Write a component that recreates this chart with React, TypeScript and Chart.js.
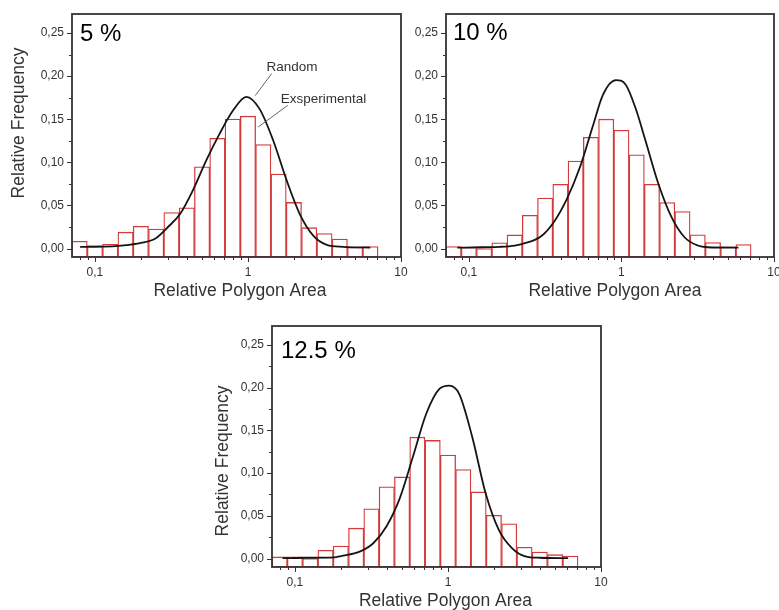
import React, { useEffect, useRef } from 'react';
import { Chart, registerables } from 'chart.js';

Chart.register(...registerables);

// ---------- data ----------
const BIN_CENTERS = [0.0794, 0.1, 0.1259, 0.1585, 0.1995, 0.2512, 0.3162, 0.3981, 0.5012, 0.631, 0.7943, 1, 1.259, 1.585, 1.995, 2.512, 3.162, 3.981, 5.012, 6.31];

const EXP_5 = [0.0085, 0.0035, 0.005, 0.019, 0.0258, 0.0225, 0.0417, 0.0473, 0.0947, 0.1278, 0.1502, 0.1535, 0.1205, 0.0864, 0.0535, 0.0242, 0.0175, 0.011, 0.0015, 0.0023];
const EXP_10 = [0.0023, 0.0015, 0, 0.0066, 0.0158, 0.0386, 0.0586, 0.0744, 0.1015, 0.129, 0.150, 0.1372, 0.1088, 0.0744, 0.0533, 0.0428, 0.016, 0.007, 0.002, 0.0046];
const EXP_125 = [0.002, 0.002, 0, 0.0097, 0.0148, 0.0356, 0.0582, 0.084, 0.0955, 0.142, 0.1382, 0.1212, 0.1042, 0.078, 0.0507, 0.0406, 0.0133, 0.0077, 0.0046, 0.003];

const RAND_5_X = [0.08, 0.1, 0.13, 0.16, 0.2, 0.25, 0.3, 0.36, 0.435, 0.533, 0.652, 0.798, 0.975, 1.19, 1.46, 1.79, 2.18, 2.67, 3.27, 4.2, 6.3];
const RAND_5_Y = [0.002, 0.002, 0.0025, 0.004, 0.0065, 0.012, 0.025, 0.040, 0.067, 0.102, 0.133, 0.160, 0.176, 0.162, 0.1256, 0.079, 0.040, 0.015, 0.0043, 0.002, 0.001];

const RAND_10_X = [0.084, 0.12, 0.16, 0.2, 0.23, 0.296, 0.36, 0.44, 0.535, 0.652, 0.755, 0.92, 1.067, 1.24, 1.435, 1.746, 2.13, 2.59, 3.16, 3.66, 5.85];
const RAND_10_Y = [0.001, 0.0015, 0.002, 0.0035, 0.006, 0.014, 0.0306, 0.058, 0.0945, 0.143, 0.178, 0.1953, 0.190, 0.1624, 0.1256, 0.0752, 0.0364, 0.0131, 0.0035, 0.0015, 0.001];

const RAND_125_X = [0.083, 0.12, 0.18, 0.2, 0.267, 0.325, 0.396, 0.484, 0.59, 0.721, 0.879, 1.019, 1.183, 1.442, 1.762, 2.148, 2.618, 3.2, 4.0, 6.1];
const RAND_125_Y = [0.0005, 0.001, 0.0015, 0.003, 0.0085, 0.018, 0.0376, 0.0705, 0.119, 0.1694, 0.1985, 0.2023, 0.1927, 0.142, 0.0764, 0.0337, 0.0124, 0.0027, 0.001, 0.0005];

const X_MIN = 0.0708;
const X_MAX = 10;
const Y_MIN = -0.0098;
const Y_MAX = 0.272;
const X_LABEL_TICKS = [0.1, 1, 10];
const X_MINOR_TICKS = [0.08, 0.09, 0.2, 0.3, 0.4, 0.5, 0.6, 0.7, 0.8, 0.9, 2, 3, 4, 5, 6, 7, 8, 9];
const Y_LABEL_TICKS = [0, 0.05, 0.1, 0.15, 0.2, 0.25];
const Y_MINOR_TICKS = [0.025, 0.075, 0.125, 0.175, 0.225];

const PANEL_LABELS = ['5 %', '10 %', '12.5 %'];
const X_TITLE = 'Relative Polygon Area';
const Y_TITLE = 'Relative Frequency';
const ANNOT_RANDOM = { text: 'Random', x: 1.32, y: 0.2105, fromX: 1.43, fromY: 0.203, toX: 1.115, toY: 0.1773 };
const ANNOT_EXP = { text: 'Exsperimental', x: 1.635, y: 0.173, fromX: 1.82, fromY: 0.166, toX: 1.167, toY: 0.141 };

// ---------- style ----------
const FONT = "'Liberation Sans', Arial, sans-serif";
const AXIS_COLOR = '#333333';
const BAR_COLOR = '#d43a3a';
const CURVE_COLOR = '#151515';

type PanelSpec = {
  exp: number[];
  randX: number[];
  randY: number[];
  label: string;
  canvas: { left: number; top: number; w: number; h: number };
  padding: { left: number; top: number; right: number; bottom: number };
  yWidth: number;
  xHeight: number;
  labelDx: number;
  labelDy: number;
  yTitle: null | { dx: number; dy: number };
  xTitleDx: number;
  annotate: boolean;
};

const PANELS: PanelSpec[] = [
  {
    exp: EXP_5, randX: RAND_5_X, randY: RAND_5_Y, label: PANEL_LABELS[0],
    canvas: { left: 0, top: -3, w: 420, h: 308 },
    padding: { left: 0, top: 17, right: 19, bottom: 0 },
    yWidth: 72, xHeight: 48, labelDx: 8, labelDy: 20,
    yTitle: { dx: -53, dy: 109 }, xTitleDx: 3.5, annotate: true,
  },
  {
    exp: EXP_10, randX: RAND_10_X, randY: RAND_10_Y, label: PANEL_LABELS[1],
    canvas: { left: 400, top: -3, w: 394, h: 308 },
    padding: { left: 0, top: 17, right: 20, bottom: 0 },
    yWidth: 46, xHeight: 48, labelDx: 7, labelDy: 19,
    yTitle: null, xTitleDx: 5, annotate: false,
  },
  {
    exp: EXP_125, randX: RAND_125_X, randY: RAND_125_Y, label: PANEL_LABELS[2],
    canvas: { left: 200, top: 305, w: 420, h: 305 },
    padding: { left: 0, top: 21, right: 19, bottom: 0 },
    yWidth: 72, xHeight: 43, labelDx: 9, labelDy: 25.5,
    yTitle: { dx: -49, dy: 135 }, xTitleDx: 9, annotate: false,
  },
];

function Panel({ spec }: { spec: PanelSpec }) {
  const ref = useRef<HTMLCanvasElement | null>(null);

  useEffect(() => {
    if (!ref.current) return;
    const barData = BIN_CENTERS.map((x, i) => ({ x, y: spec.exp[i] }));
    const curveData = spec.randX.map((x, i) => ({ x, y: spec.randY[i] }));

    const decor = {
      id: 'decor',
      afterDraw(chart: any) {
        const { ctx, chartArea: a } = chart;
        const xs = chart.scales.x;
        const ys = chart.scales.y;
        ctx.save();
        // frame
        ctx.strokeStyle = AXIS_COLOR;
        ctx.lineWidth = 1.8;
        ctx.strokeRect(a.left, a.top, a.right - a.left, a.bottom - a.top);
        // ticks
        ctx.lineWidth = 1;
        ctx.beginPath();
        X_LABEL_TICKS.forEach((v) => {
          const px = Math.round(xs.getPixelForValue(v)) + 0.5;
          ctx.moveTo(px, a.bottom); ctx.lineTo(px, a.bottom + 5);
        });
        X_MINOR_TICKS.forEach((v) => {
          const px = Math.round(xs.getPixelForValue(v)) + 0.5;
          ctx.moveTo(px, a.bottom); ctx.lineTo(px, a.bottom + 3);
        });
        Y_LABEL_TICKS.forEach((v) => {
          const py = Math.round(ys.getPixelForValue(v)) + 0.5;
          ctx.moveTo(a.left, py); ctx.lineTo(a.left - 5, py);
        });
        Y_MINOR_TICKS.forEach((v) => {
          const py = Math.round(ys.getPixelForValue(v)) + 0.5;
          ctx.moveTo(a.left, py); ctx.lineTo(a.left - 3, py);
        });
        ctx.stroke();

        // panel label
        ctx.fillStyle = '#000';
        ctx.font = `24px ${FONT}`;
        ctx.textAlign = 'left';
        ctx.textBaseline = 'middle';
        ctx.fillText(spec.label, a.left + spec.labelDx, a.top + spec.labelDy);

        // axis titles
        ctx.fillStyle = AXIS_COLOR;
        ctx.font = `17.5px ${FONT}`;
        ctx.textAlign = 'center';
        ctx.fillText(X_TITLE, (a.left + a.right) / 2 + spec.xTitleDx, a.bottom + 34.5);
        if (spec.yTitle) {
          ctx.save();
          ctx.translate(a.left + spec.yTitle.dx, a.top + spec.yTitle.dy);
          ctx.rotate(-Math.PI / 2);
          ctx.fillText(Y_TITLE, 0, 0);
          ctx.restore();
        }

        // annotations
        if (spec.annotate) {
          ctx.font = `13.5px ${FONT}`;
          ctx.textAlign = 'left';
          ctx.fillStyle = AXIS_COLOR;
          ctx.strokeStyle = '#555';
          ctx.lineWidth = 0.9;
          [ANNOT_RANDOM, ANNOT_EXP].forEach((an) => {
            ctx.fillText(an.text, xs.getPixelForValue(an.x), ys.getPixelForValue(an.y));
            ctx.beginPath();
            ctx.moveTo(xs.getPixelForValue(an.fromX), ys.getPixelForValue(an.fromY));
            ctx.lineTo(xs.getPixelForValue(an.toX), ys.getPixelForValue(an.toY));
            ctx.stroke();
          });
        }
        ctx.restore();
      },
    };

    const chart = new Chart(ref.current, {
      type: 'bar',
      data: {
        datasets: [
          {
            type: 'line',
            data: curveData,
            borderColor: CURVE_COLOR,
            borderWidth: 1.8,
            pointRadius: 0,
            cubicInterpolationMode: 'monotone',
            fill: false,
            order: 0,
          } as any,
          {
            type: 'bar',
            data: barData,
            backgroundColor: '#ffffff',
            borderColor: BAR_COLOR,
            borderWidth: 1.3,
            borderSkipped: false,
            barPercentage: 1,
            categoryPercentage: 1,
            base: Y_MIN,
            order: 1,
          } as any,
        ],
      },
      options: {
        animation: false,
        responsive: false,
        maintainAspectRatio: false,
        events: [],
        layout: { padding: spec.padding },
        plugins: { legend: { display: false }, tooltip: { enabled: false }, title: { display: false } },
        scales: {
          x: {
            type: 'logarithmic',
            min: X_MIN,
            max: X_MAX,
            offset: false,
            grid: { display: false, drawTicks: false, offset: false },
            border: { display: false },
            afterBuildTicks: (s: any) => { s.ticks = X_LABEL_TICKS.map((value) => ({ value })); },
            afterFit: (s: any) => { s.height = spec.xHeight; },
            ticks: {
              autoSkip: false,
              maxRotation: 0,
              padding: 8,
              color: AXIS_COLOR,
              font: { family: FONT, size: 12 },
              callback: (v: any) => String(v).replace('.', ','),
            },
          },
          y: {
            type: 'linear',
            min: Y_MIN,
            max: Y_MAX,
            grid: { display: false, drawTicks: false },
            border: { display: false },
            afterBuildTicks: (s: any) => { s.ticks = Y_LABEL_TICKS.map((value) => ({ value })); },
            afterFit: (s: any) => { s.width = spec.yWidth; },
            ticks: {
              padding: 8,
              color: AXIS_COLOR,
              font: { family: FONT, size: 12 },
              callback: (v: any) => Number(v).toFixed(2).replace('.', ','),
            },
          },
        },
      } as any,
      plugins: [decor],
    });
    return () => chart.destroy();
  }, [spec]);

  return (
    <canvas
      ref={ref}
      width={spec.canvas.w}
      height={spec.canvas.h}
      style={{ position: 'absolute', left: spec.canvas.left, top: spec.canvas.top, width: spec.canvas.w, height: spec.canvas.h }}
    />
  );
}

export default function App() {
  return (
    <div style={{ position: 'absolute', left: 0, top: 0, width: 779, height: 610, overflow: 'hidden', background: '#fff' }}>
      {PANELS.map((p, i) => (
        <Panel key={i} spec={p} />
      ))}
    </div>
  );
}
